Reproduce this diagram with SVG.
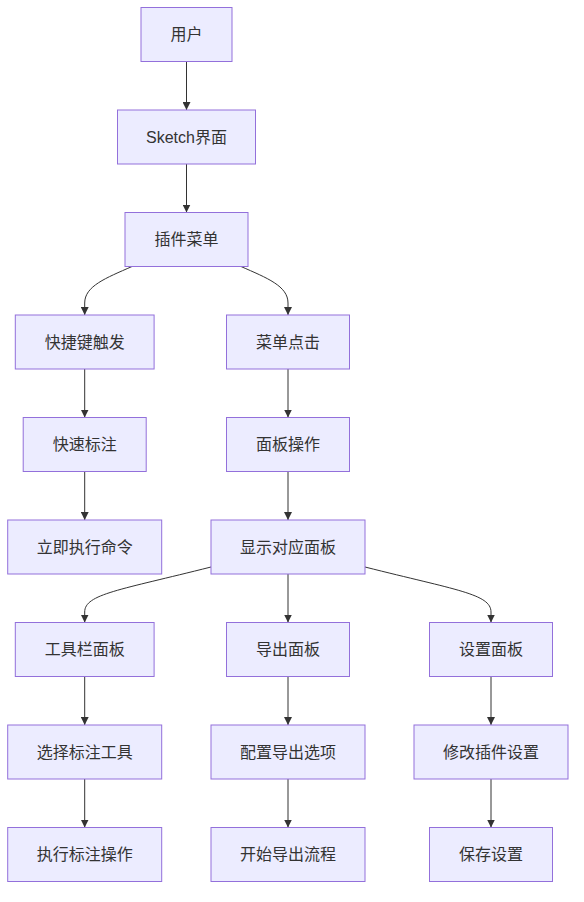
<svg xmlns="http://www.w3.org/2000/svg" width="584" height="902" viewBox="0 0 584 902">
<defs>
<marker id="arrow" viewBox="0 0 10 10" refX="10" refY="5" markerWidth="8" markerHeight="8" markerUnits="userSpaceOnUse" orient="auto">
<path d="M0,0 L10,5 L0,10 z" fill="#333333"/>
</marker>
<style>
.node rect{fill:#ECECFF;stroke:#9370DB;stroke-width:1}
.node text{font-family:"Liberation Sans","Noto Sans CJK SC",sans-serif;font-size:16px;fill:#333333;text-anchor:middle;dominant-baseline:central}
.edges path{fill:none;stroke:#333333;stroke-width:1;marker-end:url(#arrow)}
</style>
</defs>
<rect width="584" height="902" fill="#ffffff"/>
<g class="edges">
<path d="M186.5,61.5 L186.5,110"/>
<path d="M186.5,164 L186.5,212.5"/>
<path d="M132,266.5 C106,278 84.7,286 84.7,303 L84.7,315"/>
<path d="M241,266.5 C267,278 288,286 288,303 L288,315"/>
<path d="M84.7,369 L84.7,417.5"/>
<path d="M288,369 L288,417.5"/>
<path d="M84.7,471.5 L84.7,520"/>
<path d="M288,471.5 L288,520"/>
<path d="M211,567 C120,590 84.7,594 84.7,612 L84.7,622.5"/>
<path d="M288,574 L288,622.5"/>
<path d="M365,567 C456,590 491,594 491,612 L491,622.5"/>
<path d="M84.7,676.5 L84.7,725"/>
<path d="M288,676.5 L288,725"/>
<path d="M491,676.5 L491,725"/>
<path d="M84.7,779 L84.7,827.5"/>
<path d="M288,779 L288,827.5"/>
<path d="M491,779 L491,827.5"/>
</g>
<g id="n1" class="node"><rect x="141" y="7.5" width="91" height="54"/><text x="186.5" y="34.5">用户</text></g>
<g id="n2" class="node"><rect x="117.5" y="110" width="138" height="54"/><text x="186.5" y="137">Sketch界面</text></g>
<g id="n3" class="node"><rect x="125" y="212.5" width="123" height="54"/><text x="186.5" y="239.5">插件菜单</text></g>
<g id="n4" class="node"><rect x="15.3" y="315" width="138.8" height="54"/><text x="84.7" y="342">快捷键触发</text></g>
<g id="n5" class="node"><rect x="226.5" y="315" width="123" height="54"/><text x="288" y="342">菜单点击</text></g>
<g id="n6" class="node"><rect x="23.2" y="417.5" width="123" height="54"/><text x="84.7" y="444.5">快速标注</text></g>
<g id="n7" class="node"><rect x="226.5" y="417.5" width="123" height="54"/><text x="288" y="444.5">面板操作</text></g>
<g id="n8" class="node"><rect x="7.7" y="520" width="154" height="54"/><text x="84.7" y="547">立即执行命令</text></g>
<g id="n9" class="node"><rect x="211" y="520" width="154" height="54"/><text x="288" y="547">显示对应面板</text></g>
<g id="n10" class="node"><rect x="15.3" y="622.5" width="138.8" height="54"/><text x="84.7" y="649.5">工具栏面板</text></g>
<g id="n11" class="node"><rect x="226.5" y="622.5" width="123" height="54"/><text x="288" y="649.5">导出面板</text></g>
<g id="n12" class="node"><rect x="429.5" y="622.5" width="123" height="54"/><text x="491" y="649.5">设置面板</text></g>
<g id="n13" class="node"><rect x="7.7" y="725" width="154" height="54"/><text x="84.7" y="752">选择标注工具</text></g>
<g id="n14" class="node"><rect x="211" y="725" width="154" height="54"/><text x="288" y="752">配置导出选项</text></g>
<g id="n15" class="node"><rect x="414" y="725" width="154" height="54"/><text x="491" y="752">修改插件设置</text></g>
<g id="n16" class="node"><rect x="7.7" y="827.5" width="154" height="54"/><text x="84.7" y="854.5">执行标注操作</text></g>
<g id="n17" class="node"><rect x="211" y="827.5" width="154" height="54"/><text x="288" y="854.5">开始导出流程</text></g>
<g id="n18" class="node"><rect x="429.5" y="827.5" width="123" height="54"/><text x="491" y="854.5">保存设置</text></g>
</svg>
